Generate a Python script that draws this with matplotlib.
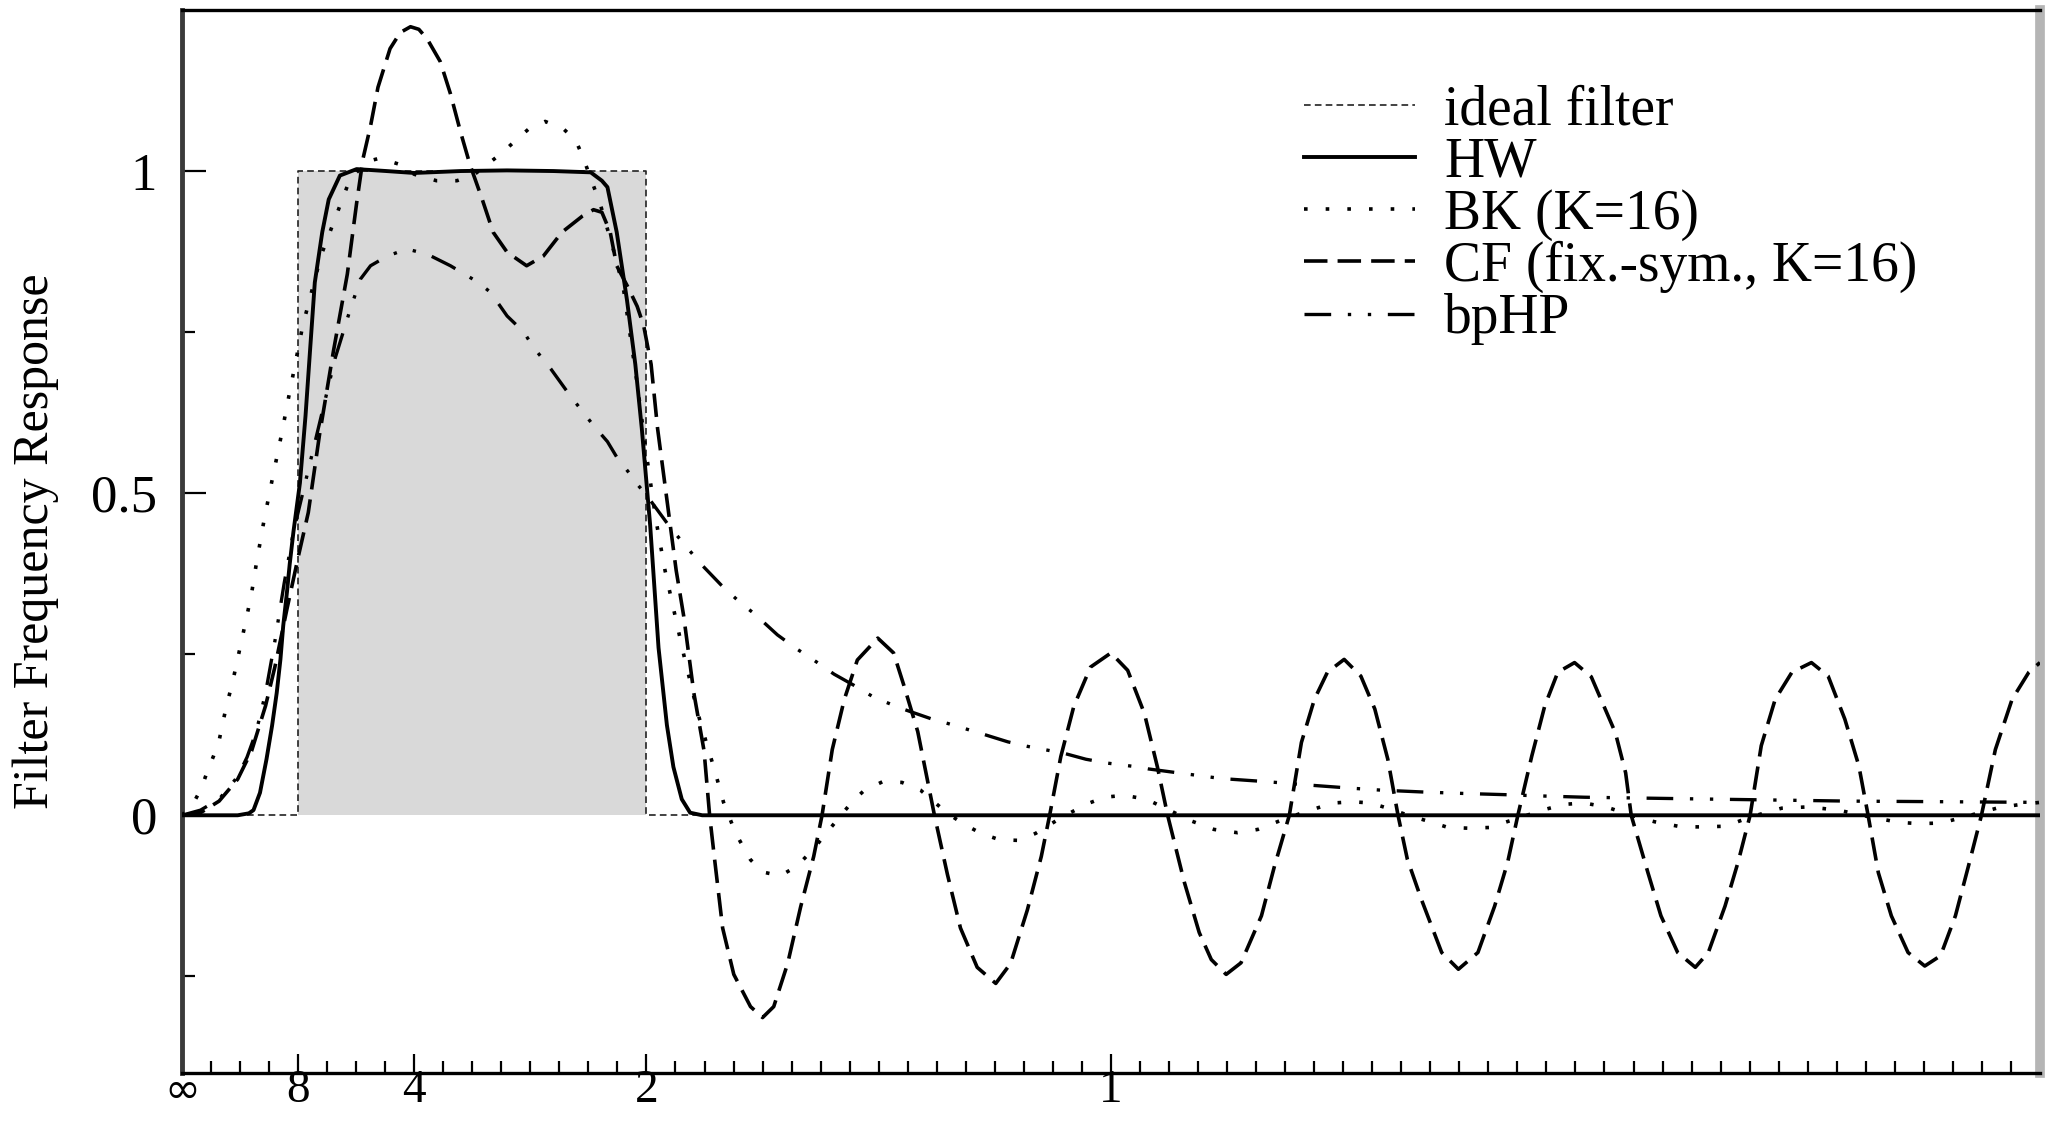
import matplotlib.pyplot as plt
from matplotlib.ticker import FixedLocator, MultipleLocator

plt.rcParams['font.family'] = ['Liberation Serif', 'DejaVu Serif']

# frequency in cycles per year (quarterly data), gain of each filter
ideal_freq = [0.0, 0.125, 0.125, 0.5, 0.5, 2.0]
ideal_gain = [0.0, 0.0, 1.0, 1.0, 0.0, 0.0]

hw_points = [
    (0.0, 0.0), (0.060, 0.0), (0.072, 0.003), (0.077, 0.008), (0.084, 0.035),
    (0.091, 0.087), (0.097, 0.139), (0.102, 0.19), (0.106, 0.242), (0.109, 0.294),
    (0.113, 0.346), (0.116, 0.39), (0.120, 0.44), (0.127, 0.516), (0.133, 0.62),
    (0.138, 0.724), (0.143, 0.827), (0.151, 0.905), (0.158, 0.956), (0.170, 0.993),
    (0.188, 1.003), (0.22, 1.0), (0.25, 0.997), (0.30, 1.0), (0.35, 1.001),
    (0.40, 1.0), (0.44, 0.998), (0.452, 0.985), (0.458, 0.975), (0.468, 0.905),
    (0.479, 0.80), (0.488, 0.70), (0.495, 0.60), (0.504, 0.45), (0.513, 0.26),
    (0.522, 0.14), (0.529, 0.075), (0.538, 0.025), (0.547, 0.004), (0.560, 0.0),
    (2.0, 0.0),
]

bk_points = [
    (0.0, 0.0), (0.012, 0.018), (0.021, 0.042), (0.027, 0.067), (0.034, 0.092),
    (0.040, 0.116), (0.047, 0.164), (0.055, 0.21), (0.0625, 0.26), (0.070, 0.31),
    (0.075, 0.345), (0.080, 0.39), (0.088, 0.455), (0.095, 0.506), (0.102, 0.555),
    (0.107, 0.59), (0.115, 0.65), (0.130, 0.76), (0.150, 0.87), (0.170, 0.946),
    (0.181, 0.988), (0.200, 1.015), (0.213, 1.02), (0.235, 1.01), (0.250, 0.995),
    (0.274, 0.985), (0.296, 0.985), (0.315, 0.995), (0.332, 1.014), (0.346, 1.03),
    (0.361, 1.05), (0.373, 1.065), (0.391, 1.077), (0.411, 1.065), (0.424, 1.047),
    (0.431, 1.024), (0.443, 0.977), (0.450, 0.95), (0.464, 0.88), (0.475, 0.82),
    (0.490, 0.67), (0.500, 0.56), (0.510, 0.46), (0.520, 0.38), (0.540, 0.25),
    (0.555, 0.16), (0.565, 0.11), (0.573, 0.072), (0.583, 0.02), (0.596, -0.028),
    (0.612, -0.069), (0.625, -0.088), (0.644, -0.094), (0.662, -0.079), (0.680, -0.052),
    (0.698, -0.02), (0.722, 0.022), (0.734, 0.038), (0.754, 0.052), (0.775, 0.051),
    (0.795, 0.039), (0.824, 0.003), (0.842, -0.014), (0.860, -0.028), (0.880, -0.038),
    (0.901, -0.039), (0.919, -0.028), (0.945, -0.005), (0.973, 0.017), (0.993, 0.028),
    (1.014, 0.031), (1.038, 0.025), (1.060, 0.01), (1.085, -0.008), (1.111, -0.022),
    (1.136, -0.027), (1.158, -0.022), (1.188, -0.005), (1.217, 0.009), (1.239, 0.019),
    (1.260, 0.021), (1.280, 0.019), (1.302, 0.009), (1.320, 0.0), (1.341, -0.009),
    (1.363, -0.019), (1.384, -0.02), (1.407, -0.019), (1.437, -0.005), (1.467, 0.009),
    (1.488, 0.017), (1.510, 0.019), (1.535, 0.012), (1.560, 0.0), (1.585, -0.01),
    (1.614, -0.018), (1.637, -0.018), (1.661, -0.017), (1.690, -0.002), (1.722, 0.011),
    (1.750, 0.013), (1.783, 0.008), (1.815, -0.002), (1.848, -0.011), (1.870, -0.013),
    (1.894, -0.012), (1.925, 0.0), (1.956, 0.012), (1.980, 0.017), (2.0, 0.02),
]

cf_points = [
    (0.0, 0.0), (0.02, 0.004), (0.04, 0.022), (0.06, 0.056), (0.075, 0.10),
    (0.09, 0.17), (0.10, 0.23), (0.113, 0.32), (0.125, 0.40), (0.136, 0.47),
    (0.148, 0.59), (0.163, 0.72), (0.178, 0.84), (0.188, 0.95), (0.195, 1.02),
    (0.203, 1.07), (0.211, 1.13), (0.224, 1.19), (0.235, 1.215), (0.246, 1.224),
    (0.255, 1.22), (0.264, 1.205), (0.278, 1.17), (0.289, 1.12), (0.300, 1.06),
    (0.310, 1.01), (0.323, 0.957), (0.335, 0.905), (0.350, 0.874), (0.371, 0.853),
    (0.389, 0.868), (0.409, 0.905), (0.431, 0.93), (0.443, 0.94), (0.452, 0.936),
    (0.461, 0.905), (0.468, 0.853), (0.480, 0.82), (0.490, 0.79), (0.497, 0.76),
    (0.505, 0.70), (0.512, 0.60), (0.522, 0.49), (0.532, 0.38), (0.540, 0.31),
    (0.551, 0.19), (0.562, 0.10), (0.568, 0.0), (0.573, -0.064), (0.582, -0.175),
    (0.594, -0.247), (0.612, -0.297), (0.625, -0.314), (0.637, -0.297), (0.652, -0.23),
    (0.666, -0.142), (0.680, -0.064), (0.689, 0.0), (0.700, 0.102), (0.713, 0.18),
    (0.727, 0.241), (0.749, 0.275), (0.766, 0.252), (0.777, 0.202), (0.792, 0.13),
    (0.802, 0.058), (0.810, 0.0), (0.824, -0.092), (0.838, -0.175), (0.856, -0.236),
    (0.876, -0.261), (0.892, -0.23), (0.910, -0.147), (0.925, -0.064), (0.934, 0.0),
    (0.946, 0.091), (0.960, 0.169), (0.978, 0.23), (1.000, 0.252), (1.018, 0.225),
    (1.036, 0.158), (1.050, 0.075), (1.061, 0.0), (1.079, -0.104), (1.095, -0.182),
    (1.108, -0.224), (1.124, -0.247), (1.140, -0.229), (1.162, -0.156), (1.176, -0.079),
    (1.192, 0.0), (1.205, 0.113), (1.219, 0.18), (1.233, 0.222), (1.251, 0.242),
    (1.269, 0.216), (1.284, 0.165), (1.298, 0.087), (1.309, 0.0), (1.319, -0.068),
    (1.334, -0.13), (1.356, -0.213), (1.374, -0.239), (1.395, -0.213), (1.413, -0.141),
    (1.427, -0.073), (1.438, 0.0), (1.453, 0.092), (1.467, 0.17), (1.481, 0.222),
    (1.499, 0.237), (1.517, 0.215), (1.543, 0.128), (1.554, 0.066), (1.560, 0.0),
    (1.578, -0.089), (1.592, -0.156), (1.610, -0.213), (1.629, -0.236), (1.643, -0.213),
    (1.661, -0.141), (1.675, -0.073), (1.688, 0.0), (1.700, 0.108), (1.715, 0.18),
    (1.733, 0.222), (1.754, 0.237), (1.772, 0.216), (1.790, 0.149), (1.805, 0.077),
    (1.815, 0.0), (1.826, -0.089), (1.840, -0.156), (1.858, -0.213), (1.876, -0.234),
    (1.893, -0.218), (1.909, -0.156), (1.923, -0.079), (1.937, 0.0), (1.952, 0.102),
    (1.970, 0.18), (1.988, 0.222), (2.0, 0.237),
]

bphp_points = [
    (0.0, 0.0), (0.02, 0.008), (0.04, 0.025), (0.06, 0.06), (0.07, 0.09),
    (0.08, 0.13), (0.09, 0.19), (0.10, 0.27), (0.11, 0.36), (0.12, 0.44),
    (0.135, 0.53), (0.15, 0.62), (0.165, 0.71), (0.18, 0.78), (0.192, 0.832),
    (0.203, 0.853), (0.221, 0.868), (0.242, 0.879), (0.264, 0.871), (0.289, 0.853),
    (0.318, 0.828), (0.332, 0.812), (0.35, 0.775), (0.368, 0.75), (0.378, 0.727),
    (0.397, 0.693), (0.413, 0.661), (0.424, 0.64), (0.443, 0.605), (0.458, 0.58),
    (0.468, 0.556), (0.481, 0.532), (0.49, 0.514), (0.50, 0.497), (0.526, 0.446),
    (0.558, 0.391), (0.58, 0.358), (0.601, 0.33), (0.616, 0.313), (0.641, 0.28),
    (0.662, 0.258), (0.68, 0.241), (0.702, 0.219), (0.723, 0.202), (0.745, 0.183),
    (0.774, 0.166), (0.806, 0.15), (0.828, 0.141), (0.86, 0.127), (0.889, 0.114),
    (0.91, 0.107), (0.95, 0.096), (0.973, 0.087), (0.996, 0.081), (1.029, 0.075),
    (1.04, 0.072), (1.082, 0.064), (1.119, 0.057), (1.169, 0.052), (1.212, 0.047),
    (1.259, 0.042), (1.291, 0.039), (1.338, 0.036), (1.377, 0.034), (1.424, 0.032),
    (1.463, 0.030), (1.51, 0.028), (1.65, 0.025), (1.794, 0.022), (1.902, 0.021),
    (2.0, 0.02),
]

period_ticks = [0.0, 0.125, 0.25, 0.5, 1.0]
period_labels = ['∞', '8', '4', '2', '1']
gain_ticks = [0.0, 0.5, 1.0]
gain_labels = ['0', '0.5', '1']

hw_freq, hw_gain = zip(*hw_points)
bk_freq, bk_gain = zip(*bk_points)
cf_freq, cf_gain = zip(*cf_points)
bphp_freq, bphp_gain = zip(*bphp_points)

fig = plt.figure(figsize=(20.56, 11.22), dpi=100)
ax = fig.add_axes([0.0885, 0.0437, 0.9037, 0.9474])

# pass band of the ideal filter
ax.fill_between([0.125, 0.5], 0, 1, color='#d9d9d9', lw=0, zorder=1)

ax.plot(ideal_freq, ideal_gain, color='#222222', lw=1.2, ls=(0, (4, 2.5)),
        label='ideal filter', zorder=2)
ax.plot(hw_freq, hw_gain, color='black', lw=2.8, label='HW', zorder=5)
ax.plot(bk_freq, bk_gain, color='black', lw=2.6, ls=(0, (1, 5)),
        label='BK (K=16)', zorder=4)
ax.plot(cf_freq, cf_gain, color='black', lw=2.6, ls=(0, (6.5, 2.8)),
        label='CF (fix.-sym., K=16)', zorder=4)
ax.plot(bphp_freq, bphp_gain, color='black', lw=2.4, ls=(0, (8, 5, 1, 5, 1, 5)),
        label='bpHP', zorder=3)

ax.set_xlim(0, 2)
ax.set_ylim(-0.4, 1.25)

ax.set_xticks(period_ticks)
ax.set_xticklabels(period_labels)
ax.xaxis.set_minor_locator(MultipleLocator(1 / 32))
ax.set_yticks(gain_ticks)
ax.set_yticklabels(gain_labels)
ax.yaxis.set_minor_locator(FixedLocator([-0.25, 0.25, 0.75]))

ax.tick_params(which='both', direction='in', width=1.6, top=False, right=False)
ax.tick_params(axis='x', which='major', length=14, pad=-2.5, labelsize=34)
ax.tick_params(axis='x', which='minor', length=9)
ax.tick_params(axis='y', which='major', length=17, pad=18, labelsize=38)
ax.tick_params(axis='y', which='minor', length=9.5)

# the infinity sign is drawn wider than the digits
inf_label = ax.get_xticklabels()[0]
inf_label.set_fontfamily(['DejaVu Sans'])
inf_label.set_fontsize(31)

ax.spines['left'].set_color('#3a3a3a')
ax.spines['left'].set_linewidth(3.5)
ax.spines['bottom'].set_linewidth(2.4)
ax.spines['top'].set_linewidth(2.4)
ax.spines['right'].set_color('#b5b5b5')
ax.spines['right'].set_linewidth(7)

ax.set_ylabel('Filter Frequency Response', fontsize=36)
ax.yaxis.set_label_coords(-0.066, 0.5)

ax.legend(loc='upper left', bbox_to_anchor=(0.604, 0.93), frameon=False,
          fontsize=40, handlelength=2.0, handletextpad=0.52, labelspacing=0.0,
          borderpad=0, borderaxespad=0)

fig.savefig('out.png', dpi=100)
